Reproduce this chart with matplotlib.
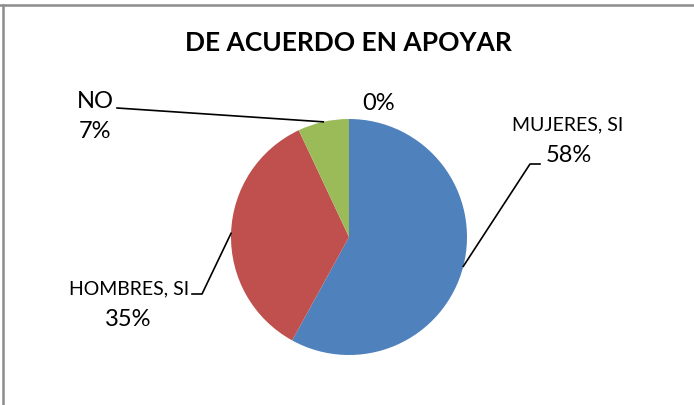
import numpy as np
import matplotlib
matplotlib.use("Agg")
import matplotlib.pyplot as plt
from matplotlib.lines import Line2D

# ---- data ----
categories = ["MUJERES, SI", "HOMBRES, SI", "NO", ""]
values = [58, 35, 7, 0]
colors = ["#4F81BD", "#C0504D", "#9BBB59", "#8064A2"]
title = "DE ACUERDO EN APOYAR"

W, H = 694, 405
plt.rcParams['font.family'] = ['Lato', 'DejaVu Sans']
fig = plt.figure(figsize=(W / 100, H / 100), dpi=100)

# pie placement (pixels, origin top-left)
cx, cy, R = 349, 237, 118
ax = fig.add_axes([(cx - R) / W, (H - cy - R) / H, 2 * R / W, 2 * R / H])
wedges, _ = ax.pie(values, colors=colors, startangle=90, counterclock=False,
                   radius=1, wedgeprops=dict(linewidth=0))
ax.set_xlim(-1, 1)
ax.set_ylim(-1, 1)
ax.set_aspect('equal')
ax.axis('off')


def px(x, y):
    """pixel (top-left origin) -> data coords of the pie axes"""
    return ((x - cx) / R, (cy - y) / R)


total = sum(values)
pcts = [f"{round(v / total * 100)}%" for v in values]

# label layout (pixel positions) : (name pos, pct pos, name size, leader path end points)
layout = {
    0: dict(name=(568, 125), pct=(569, 156), nsize=14, psize=17,
            path=[(530, 164), (540, 164)]),
    1: dict(name=(129, 289), pct=(128, 320), nsize=14, psize=17,
            path=[(202, 294), (192, 294)]),
    2: dict(name=(95, 101), pct=(95, 132), nsize=17, psize=17,
            path=[(117, 108)]),
    3: dict(name=None, pct=(379, 103), nsize=14, psize=17, path=None),
}

for i, w in enumerate(wedges):
    L = layout[i]
    ang = np.deg2rad((w.theta1 + w.theta2) / 2)
    if L["path"]:
        pts = [(np.cos(ang), np.sin(ang))] + [px(*p) for p in L["path"]]
        xs, ys = zip(*pts)
        ax.add_line(Line2D(xs, ys, color="black", lw=1.2, clip_on=False))
    if L["name"] and categories[i]:
        ax.text(*px(*L["name"]), categories[i], fontsize=L["nsize"],
                ha="center", va="center", clip_on=False)
    ax.text(*px(*L["pct"]), pcts[i], fontsize=L["psize"],
            ha="center", va="center", clip_on=False)

fig.text(348.5 / W, 1 - 43 / H, title, fontsize=19, fontweight="bold",
         ha="center", va="center")

# chart border (only top and left visible in crop)
fig.add_artist(Line2D([0, 1], [1 - 4.5 / H, 1 - 4.5 / H], color="#8C8C8C", lw=1.8,
                      transform=fig.transFigure))
fig.add_artist(Line2D([3 / W, 3 / W], [0, 1 - 4.5 / H], color="#8C8C8C", lw=1.8,
                      transform=fig.transFigure))

fig.savefig("out.png", dpi=100, facecolor="white")
